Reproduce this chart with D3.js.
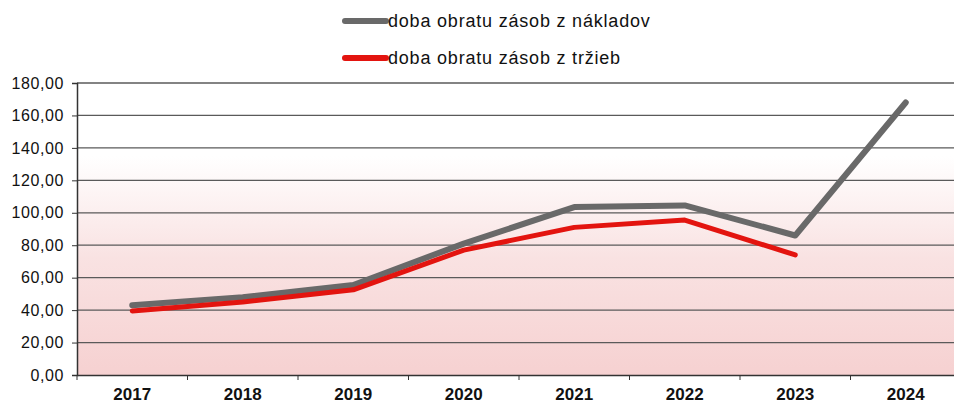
<!DOCTYPE html>
<html>
<head>
<meta charset="utf-8">
<script src="https://cdn.jsdelivr.net/npm/d3@7"></script>
<style>
  body { margin: 0; background: #fff; }
  svg { display: block; font-family: "Liberation Sans", Arial, sans-serif; }
</style>
</head>
<body>
<svg width="954" height="403"></svg>
<script>
var years = ["2017", "2018", "2019", "2020", "2021", "2022", "2023", "2024"];
var nakladyValues = [43, 48, 55.5, 81, 103.5, 104.5, 86, 168];
var trzbyValues = [39.5, 45, 52.5, 77, 91, 95.5, 74, null];
var yTicks = [0, 20, 40, 60, 80, 100, 120, 140, 160, 180];

var series = [
  { name: "doba obratu zásob z nákladov", values: nakladyValues, color: "#696969", width: 6 },
  { name: "doba obratu zásob z tržieb", values: trzbyValues, color: "#e3140f", width: 5 }
];

var margin = { top: 83, right: -7, bottom: 28, left: 77 };
var width = 954 - margin.left - margin.right;
var height = 403 - margin.top - margin.bottom;

var svg = d3.select("svg");

var x = d3.scaleBand()
  .domain(years)
  .range([0, width]);

var y = d3.scaleLinear()
  .domain([0, 180])
  .range([height, 0]);

var defs = svg.append("defs");
var grad = defs.append("linearGradient")
  .attr("id", "bg")
  .attr("x1", 0).attr("y1", 0)
  .attr("x2", 0).attr("y2", 1);
grad.append("stop").attr("offset", "0%").attr("stop-color", "#ffffff");
grad.append("stop").attr("offset", "25%").attr("stop-color", "#ffffff");
grad.append("stop").attr("offset", "60%").attr("stop-color", "#f9e2e2");
grad.append("stop").attr("offset", "100%").attr("stop-color", "#f6d1d1");

var g = svg.append("g")
  .attr("transform", "translate(" + margin.left + "," + margin.top + ")");

g.append("rect")
  .attr("width", width)
  .attr("height", height)
  .attr("fill", "url(#bg)");

// horizontal gridlines
g.selectAll("line.grid")
  .data(yTicks.slice(1))
  .enter()
  .append("line")
  .attr("class", "grid")
  .attr("x1", 0)
  .attr("x2", width)
  .attr("y1", function (d) { return y(d); })
  .attr("y2", function (d) { return y(d); })
  .attr("stroke", "#5a5a5a")
  .attr("stroke-width", 1.3);

// y axis
var yAxis = d3.axisLeft(y)
  .tickValues(yTicks)
  .tickSize(5)
  .tickFormat(function (d) { return d3.format(".2f")(d).replace(".", ","); });

g.append("g")
  .call(yAxis)
  .call(function (a) {
    a.select(".domain").attr("stroke", "#333").attr("stroke-width", 1.5);
    a.selectAll(".tick line").attr("stroke", "#333");
    a.selectAll("text")
      .attr("x", -13)
      .attr("fill", "#111")
      .style("font-size", "16px")
      .style("letter-spacing", "0.6px");
  });

// x axis
var xAxis = d3.axisBottom(x)
  .tickSize(0)
  .tickPadding(13);

g.append("g")
  .attr("transform", "translate(0," + height + ")")
  .call(xAxis)
  .call(function (a) {
    a.select(".domain").attr("stroke", "#333").attr("stroke-width", 1.5);
    a.selectAll("text")
      .attr("fill", "#111")
      .style("font-size", "17px")
      .style("font-weight", "bold");
  });

// tick marks between categories
g.selectAll("line.xtick")
  .data(years)
  .enter()
  .append("line")
  .attr("class", "xtick")
  .attr("x1", function (d) { return x(d); })
  .attr("x2", function (d) { return x(d); })
  .attr("y1", height)
  .attr("y2", height + 5)
  .attr("stroke", "#333");

var line = d3.line()
  .defined(function (d) { return d.v != null; })
  .x(function (d) { return x(d.year) + x.bandwidth() / 2; })
  .y(function (d) { return y(d.v); });

series.forEach(function (s) {
  var pts = years.map(function (yr, i) { return { year: yr, v: s.values[i] }; });
  g.append("path")
    .datum(pts)
    .attr("fill", "none")
    .attr("stroke", s.color)
    .attr("stroke-width", s.width)
    .attr("stroke-linejoin", "round")
    .attr("stroke-linecap", "round")
    .attr("d", line);
});

// legend
var legend = svg.append("g")
  .attr("transform", "translate(345,21)");

legend.selectAll("g")
  .data(series)
  .enter()
  .append("g")
  .attr("transform", function (d, i) { return "translate(0," + i * 37 + ")"; })
  .each(function (d) {
    var lg = d3.select(this);
    lg.append("line")
      .attr("x1", 0).attr("x2", 41)
      .attr("stroke", d.color)
      .attr("stroke-width", 6)
      .attr("stroke-linecap", "round");
    lg.append("text")
      .attr("x", 43)
      .attr("y", 6)
      .attr("fill", "#111")
      .style("font-size", "18px")
      .style("letter-spacing", "0.8px")
      .text(d.name);
  });
</script>
</body>
</html>
